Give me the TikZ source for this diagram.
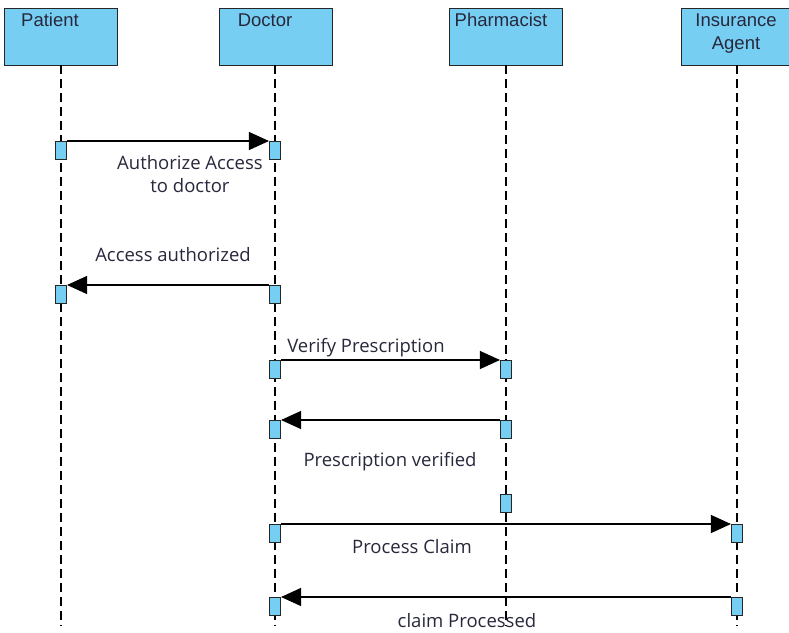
\documentclass[tikz,border=0pt]{standalone}
\usepackage{fontspec}
\setmainfont{Open Sans}
\newfontfamily\headfont{Liberation Sans}
\usetikzlibrary{arrows.meta}
\definecolor{actfill}{RGB}{119,206,243}
\definecolor{txtc}{RGB}{40,40,60}
\tikzset{
  x=1pt,y=-1pt,
  actor/.style={draw=black!85,line width=1.2pt,fill=actfill,minimum width=113pt,minimum height=57pt,inner sep=0pt,anchor=north west},
  act/.style={draw=black!85,line width=1.1pt,fill=actfill,minimum width=11pt,minimum height=18pt,inner sep=0pt,anchor=north},
  life/.style={draw=black,line width=1.1pt,dash pattern=on 9pt off 5pt},
  msg/.style={draw=black,line width=1.1pt,-{Triangle[length=20pt,width=18pt]}},
  htext/.style={font=\headfont\fontsize{18.5}{23}\selectfont,text=txtc,inner sep=0pt,anchor=base},
  mtext/.style={font=\fontsize{18.5}{22.5}\selectfont,text=txtc,inner sep=0pt,anchor=base,align=center}
}
\begin{document}
\begin{tikzpicture}
\useasboundingbox (0,0) rectangle (789,632);
% actors
\node[actor] (pat) at (4,8) {};
\node[actor] (doc) at (219,8) {};
\node[actor] (pha) at (449,8) {};
\node[actor,minimum width=112pt] (ins) at (681,8) {};
\node[htext] (patT) at (50,26) {Patient};
\node[htext] (docT) at (265,26) {Doctor};
\node[htext] (phaT) at (501,26) {Pharmacist};
\node[htext,align=center] (insT) at (736,49) {Insurance\\Agent};
% lifeline ends
\coordinate (patE) at (61,626);
\coordinate (docE) at (275,626);
\coordinate (phaE) at (506,626);
\coordinate (insE) at (737,626);
\draw[life] (61,65) -- (patE);
\draw[life] (275,65) -- (docE);
\draw[life] (506,65) -- (phaE);
\draw[life] (737,65) -- (insE);
% activations
\node[act] (p1) at (61,141) {};
\node[act] (d1) at (275,141) {};
\node[act] (p2) at (61,285) {};
\node[act] (d2) at (275,285) {};
\node[act] (d3) at (275,360) {};
\node[act] (h3) at (506,360) {};
\node[act] (d4) at (275,420) {};
\node[act] (h4) at (506,420) {};
\node[act] (h5) at (506,494) {};
\node[act] (d6) at (275,524) {};
\node[act] (i6) at (737,524) {};
\node[act] (d7) at (275,597) {};
\node[act] (i7) at (737,597) {};
% messages
\draw[msg] (p1.north east) -- (d1.north west);
\draw[msg] (d2.north west) -- (p2.north east);
\draw[msg] (d3.north east) -- (h3.north west);
\draw[msg] (h4.north west) -- (d4.north east);
\draw[msg] (d6.north east) -- (i6.north west);
\draw[msg] (i7.north west) -- (d7.north east);
% labels
\node[mtext] (m1) at (190,192) {Authorize Access\\to doctor};
\node[mtext] (m2) at (173,261) {Access authorized};
\node[mtext] (m3) at (366,352) {Verify Prescription};
\node[mtext] (m4) at (390,466) {Prescription verified};
\node[mtext] (m5) at (412,553) {Process Claim};
\node[mtext] (m6) at (467,627) {claim Processed};
\end{tikzpicture}
\end{document}
